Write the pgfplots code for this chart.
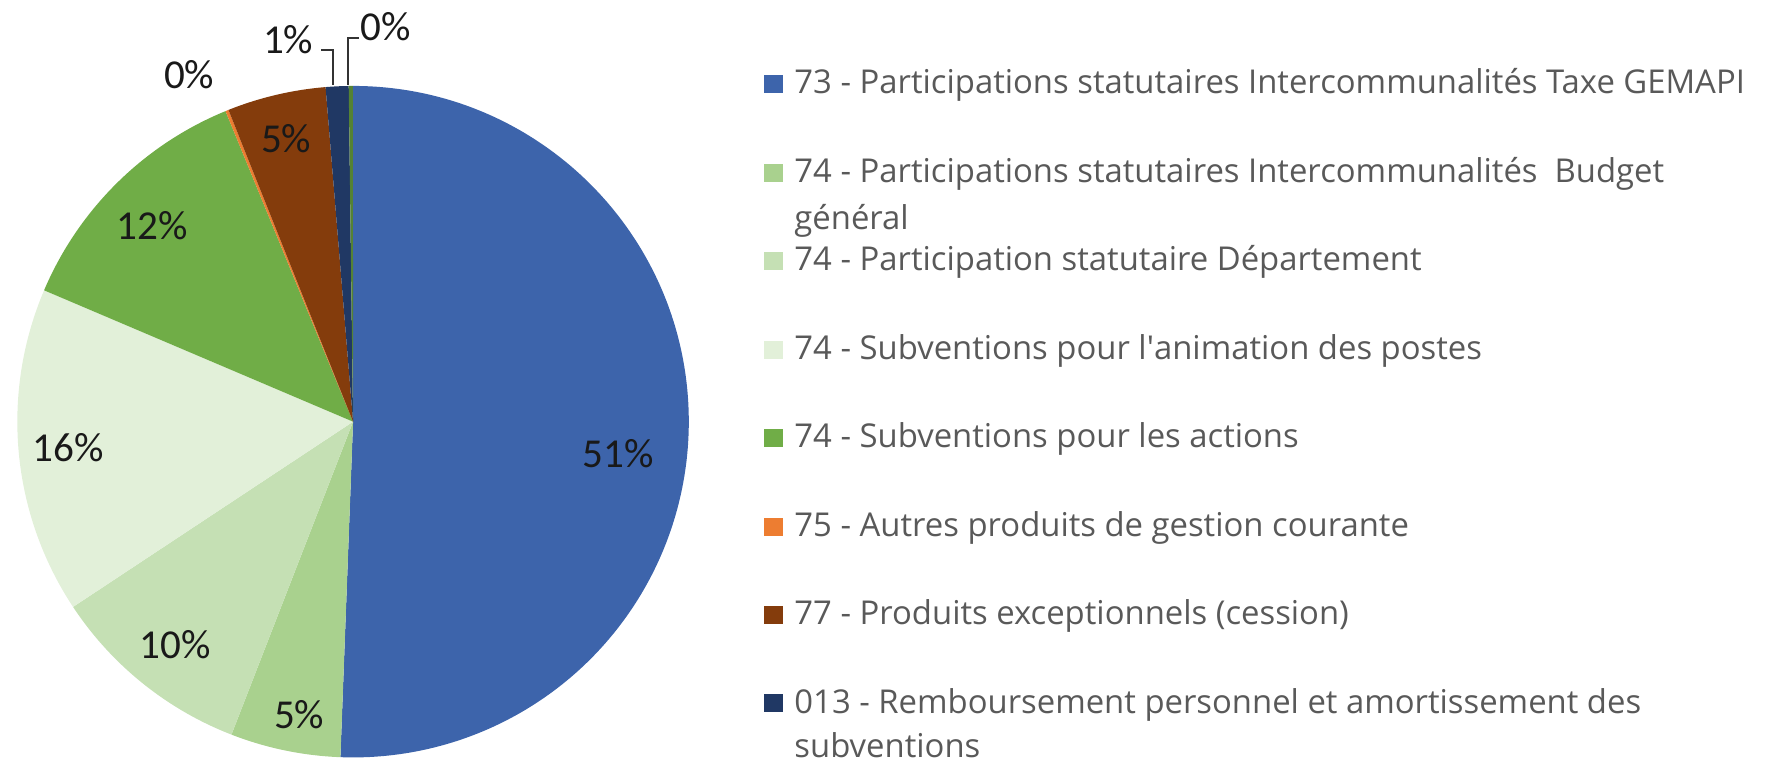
\documentclass[border=0pt]{standalone}
\usepackage{pgfplots}
\pgfplotsset{compat=1.18}
\usepackage{fontspec}
\setmainfont{Carlito}[Ligatures={TeX,NoCommon}]
\newfontfamily\legfont{Open Sans}[Ligatures={NoCommon}]
\definecolor{cA}{HTML}{3D64AB}
\definecolor{cB}{HTML}{A9D18E}
\definecolor{cC}{HTML}{C5E0B4}
\definecolor{cD}{HTML}{E2F0D9}
\definecolor{cE}{HTML}{70AD47}
\definecolor{cF}{HTML}{ED7D31}
\definecolor{cG}{HTML}{843C0C}
\definecolor{cH}{HTML}{203864}
\definecolor{cI}{HTML}{548235}
\definecolor{legtext}{HTML}{595959}
% slice values (percent)
\def\vA{50.6}\def\vB{5.3}\def\vC{9.8}\def\vD{15.7}\def\vE{12.4}
\def\vF{0.15}\def\vG{4.75}\def\vH{1.1}\def\vI{0.2}
\pgfmathsetmacro\tot{\vA+\vB+\vC+\vD+\vE+\vF+\vG+\vH+\vI}
\pgfmathsetmacro\aO{90}
\pgfmathsetmacro\aA{\aO-360*(\vA/\tot)}
\pgfmathsetmacro\aB{\aA-360*(\vB/\tot)}
\pgfmathsetmacro\aC{\aB-360*(\vC/\tot)}
\pgfmathsetmacro\aD{\aC-360*(\vD/\tot)}
\pgfmathsetmacro\aE{\aD-360*(\vE/\tot)}
\pgfmathsetmacro\aF{\aE-360*(\vF/\tot)}
\pgfmathsetmacro\aG{\aF-360*(\vG/\tot)}
\pgfmathsetmacro\aH{\aG-360*(\vH/\tot)}
\pgfmathsetmacro\aI{\aH-360*(\vI/\tot)}
\def\R{33.6mm}
\newcommand\slice[3]{\fill[#3] (axis cs:352,339) -- ++(#1:\R) arc[start angle=#1, end angle=#2, radius=\R] -- cycle;}
\newcommand\pl[3]{\node[font=\fontsize{11.7}{14}\selectfont, text=black!90] at (axis cs:#1,#2) {#3};}
% #1 = baseline (pixels from top)
\newcommand\leg[3]{%
  \fill[#2] (axis cs:763,{761-#1+19}) rectangle (axis cs:782,{761-#1+1});
  \node[anchor=base west, inner sep=0pt, text=legtext, font=\legfont\fontsize{9.35}{11}\selectfont] at (axis cs:793,{761-#1}) {#3};}
\newcommand\legc[2]{%
  \node[anchor=base west, inner sep=0pt, text=legtext, font=\legfont\fontsize{9.35}{11}\selectfont] at (axis cs:793,{761-#1}) {#2};}
\begin{document}
\begin{tikzpicture}
\begin{axis}[x=0.1mm, y=0.1mm, xmin=0, xmax=1766, ymin=0, ymax=761,
  hide axis, clip=false]
\path (axis cs:0,0) rectangle (axis cs:1766,761);
\slice{\aO}{\aA}{cA}
\slice{\aA}{\aB}{cB}
\slice{\aB}{\aC}{cC}
\slice{\aC}{\aD}{cD}
\slice{\aD}{\aE}{cE}
\slice{\aE}{\aF}{cF}
\slice{\aF}{\aG}{cG}
\slice{\aG}{\aH}{cH}
\slice{\aH}{\aI}{cI}
% data labels
\pl{617}{307}{51\%}
\pl{298}{46}{5\%}
\pl{174}{116}{10\%}
\pl{67}{313}{16\%}
\pl{151}{535}{12\%}
\pl{188}{686}{0\%}
\pl{285}{622}{5\%}
\pl{287}{721}{1\%}
\pl{385}{734}{0\%}
% leader lines
\draw[black!80, line width=0.35pt] (axis cs:320,711) -- (axis cs:332,711) -- (axis cs:332,676);
\draw[black!80, line width=0.35pt] (axis cs:358,723) -- (axis cs:347,723) -- (axis cs:347,676);
% legend
\leg{94}{cA}{73 - Participations statutaires Intercommunalités Taxe GEMAPI}
\leg{183}{cB}{74 - Participations statutaires Intercommunalités\ \ Budget}
\legc{230}{général}
\leg{271}{cC}{74 - Participation statutaire Département}
\leg{360}{cD}{74 - Subventions pour l\textquotesingle animation des postes}
\leg{448}{cE}{74 - Subventions pour les actions}
\leg{537}{cF}{75 - Autres produits de gestion courante}
\leg{625}{cG}{77 - Produits exceptionnels (cession)}
\leg{714}{cH}{013 - Remboursement personnel et amortissement des}
\legc{758}{subventions}
\end{axis}
\end{tikzpicture}
\end{document}
